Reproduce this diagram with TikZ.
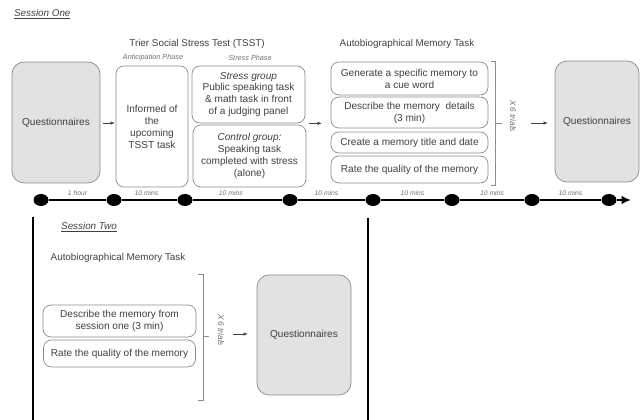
\documentclass[tikz,border=0pt]{standalone}
\usepackage{fontspec}
\setmainfont{Liberation Sans}
\usetikzlibrary{arrows.meta,shapes.geometric}
\definecolor{txtgrey}{HTML}{404040}
\definecolor{lightgrey}{HTML}{707070}
\definecolor{linegrey}{HTML}{8C8C8C}
\definecolor{boxfill}{HTML}{E2E2E2}

\tikzset{
	box/.style={draw=linegrey, line width=0.6pt, rounded corners=2.4mm, align=center, text=txtgrey, inner sep=1pt, font=\fontsize{8.6}{10.2}\selectfont},
	qbox/.style={box, fill=boxfill, rounded corners=3.6mm},
	heading/.style={text=txtgrey, font=\fontsize{8.4}{10}\selectfont},
	phase/.style={text=lightgrey, font=\fontsize{6.2}{7}\selectfont\itshape},
	trials/.style={text=lightgrey, rotate=-90, font=\fontsize{7}{8}\selectfont\itshape},
	lab/.style={text=lightgrey, inner sep=0pt, above=2.6pt, font=\fontsize{5.8}{6}\selectfont\itshape},
	tdot/.style={ellipse, fill=black, inner sep=0pt, minimum width=4.5mm, minimum height=3.6mm},
	tline/.style={line width=1.6pt, -{Latex[length=2.8mm,width=2.6mm]}},
	brk/.style={draw=linegrey, line width=0.6pt},
	small/.style={line width=0.4pt, draw=txtgrey, -{Latex[length=1.2mm,width=1mm]}}
}

\begin{document}
\begin{tikzpicture}[x=0.3mm, y=-0.3mm]
			\useasboundingbox (0,0) rectangle (641,420);
			% session one
			\node[heading, anchor=west] (s1) at (10,14) {\underline{\textit{Session One}}};
			\node[heading] (tsst) at (197,44) {Trier Social Stress Test (TSST)};
			\node[heading] (amt1) at (407,44) {Autobiographical Memory Task};
			\node[phase] (ant) at (153,58) {Anticipation Phase};
			\node[phase] (str) at (250,58) {Stress Phase};
			\node[qbox, minimum width=26.4mm, minimum height=36.3mm] (q1) at (56,122.5) {Questionnaires};
			\node[box, minimum width=21.6mm, minimum height=36.3mm] (inf) at (152,126.5) {Informed of\\the\\upcoming\\TSST task};
			\node[box, minimum width=33.9mm, minimum height=17.1mm] (stress) at (248.5,94.5) {\textit{Stress group}\\Public speaking task\\\& math task in front\\of a judging panel};
			\node[box, minimum width=33.9mm, minimum height=18.6mm] (control) at (249.5,156) {\textit{Control group:}\\Speaking task\\completed with stress\\(alone)};
			\node[box, minimum width=47.1mm, minimum height=9.9mm] (gen) at (409.5,78.5) {Generate a specific memory to\\a cue word};
			\node[box, minimum width=47.1mm, minimum height=9.3mm] (desc) at (409.5,112.5) {Describe the memory\ \ details\\(3 min)};
			\node[box, minimum width=47.1mm, minimum height=6.3mm] (title) at (409.5,142.5) {Create a memory title and date};
			\node[box, minimum width=47.1mm, minimum height=8.1mm] (rate) at (409.5,169.5) {Rate the quality of the memory};
			\node[qbox, minimum width=25.2mm, minimum height=36.3mm] (q2) at (597,121.5) {Questionnaires};
			\node[trials] (x1) at (513,116) {X 6 trials};
			\coordinate (b1) at (502,123);
			\draw[brk] (491,61) -- (495,61) -- (495,185) -- (491,185);
			\draw[brk] (495,123) -- (b1);
			\draw[small, shorten <=0.9mm, shorten >=0.3mm] (q1.east |- 0,123) -- (inf.west |- 0,123);
			\draw[small, shorten <=1.2mm, shorten >=2.7mm] (stress.south east) -- (stress.south east -| gen.west);
			\draw[small, shorten <=3.3mm, shorten >=2.1mm] (x1.north |- b1) -- (q2.west |- b1);
			% time line
			\node[tdot] (t1) at (41,200) {};
			\node[tdot] (t2) at (114,200) {};
			\node[tdot] (t3) at (185,200) {};
			\node[tdot] (t4) at (290,200) {};
			\node[tdot] (t5) at (373,200) {};
			\node[tdot] (t6) at (452,200) {};
			\node[tdot] (t7) at (532,200) {};
			\node[tdot] (t8) at (609,200) {};
			\coordinate (tend) at (631,200);
			\draw[line width=1.6pt] (t1) -- node[lab] {1 hour} (t2) -- node[lab, xshift=-0.9mm] {10 mins} (t3) -- node[lab, xshift=-2mm] {10 mins} (t4) -- node[lab, xshift=-1.5mm] {10 mins} (t5) -- node[lab] {10 mins} (t6) -- node[lab] {10 mins} (t7) -- node[lab] {10 mins} (t8);
			\draw[tline] (t8) -- (tend);
			% session two
			\draw[line width=1.2pt] (33,217) -- (33,420);
			\draw[line width=1.2pt] (368,218) -- (368,420);
			\node[heading] (s2) at (89,227) {\underline{\textit{Session Two}}};
			\node[heading] (amt2) at (118,258) {Autobiographical Memory Task};
			\node[box, minimum width=45.9mm, minimum height=9.6mm] (from) at (119.5,321) {Describe the memory from\\session one (3 min)};
			\node[box, minimum width=45.6mm, minimum height=8.1mm] (rate2) at (119.5,353.5) {Rate the quality of the memory};
			\node[qbox, minimum width=28.2mm, minimum height=36mm] (q3) at (304,335) {Questionnaires};
			\node[trials] (x2) at (221,330) {X 6 trials};
			\coordinate (b2) at (209,336);
			\draw[brk] (198,274) -- (203,274) -- (203,400) -- (198,400);
			\draw[brk] (203,336) -- (b2);
			\draw[small, shorten <=1.5mm, shorten >=2.7mm] (x2.north |- 0,334) -- (q3.west |- 0,334);
		\end{tikzpicture}
\end{document}
